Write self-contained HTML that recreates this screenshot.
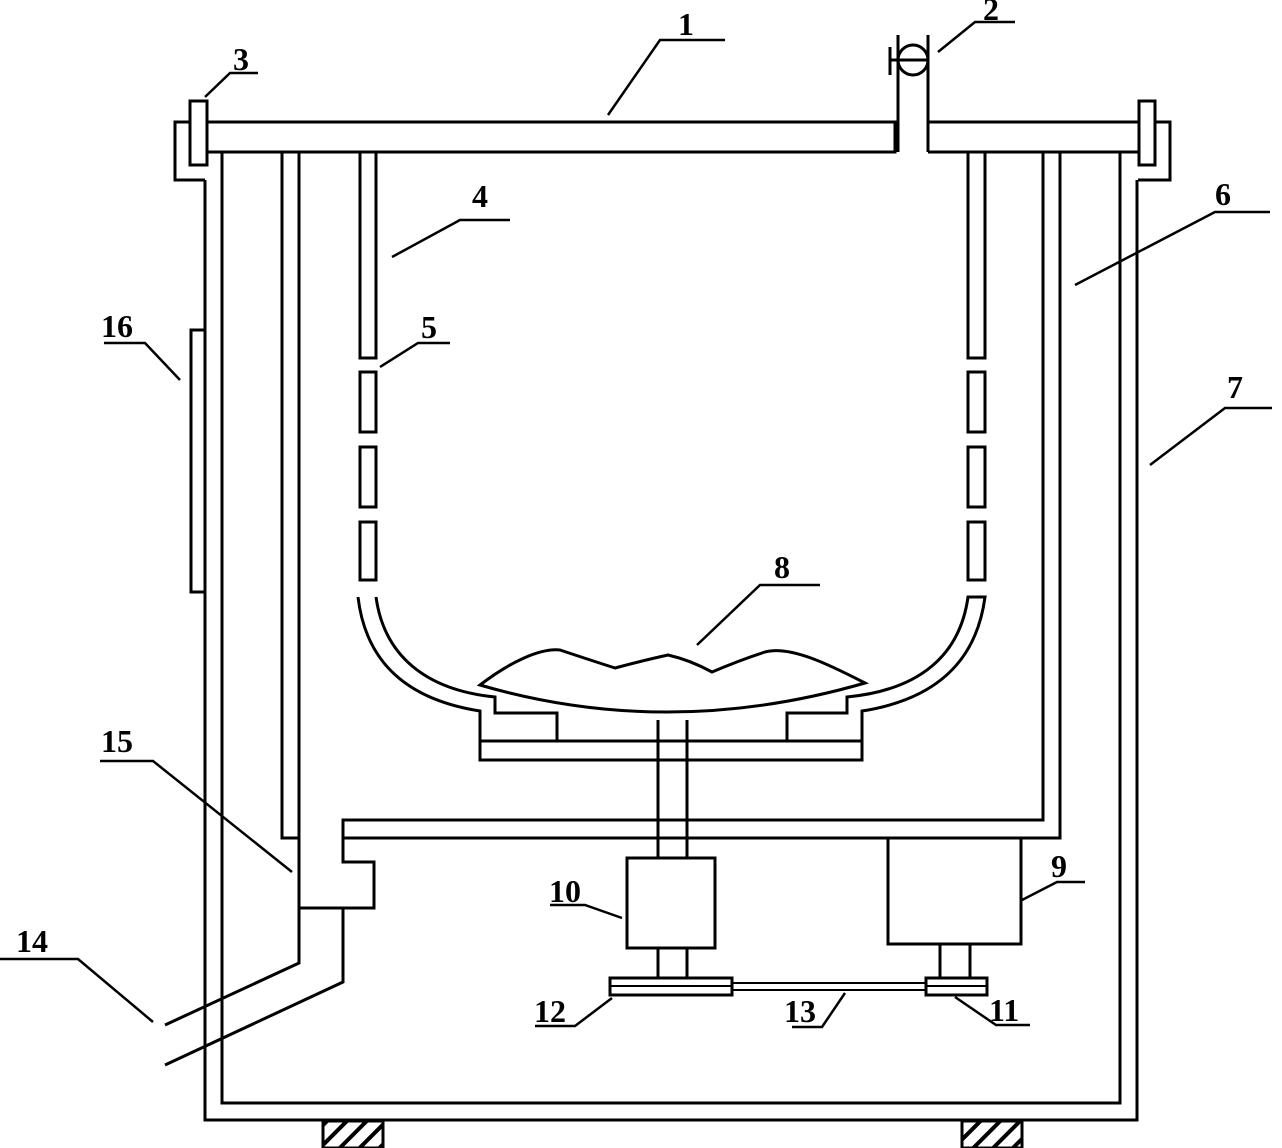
<!DOCTYPE html>
<html><head><meta charset="utf-8"><style>html,body{margin:0;padding:0;background:#fff}svg{display:block}text{font-family:"Liberation Serif",serif;font-weight:bold;font-size:32px;fill:#000}</style></head><body>
<svg width="1282" height="1148" viewBox="0 0 1282 1148" xmlns="http://www.w3.org/2000/svg">
<defs><pattern id="h" width="14" height="14" patternUnits="userSpaceOnUse" patternTransform="rotate(45)"><rect width="14" height="14" fill="#fff"/><rect x="0" y="0" width="4" height="14" fill="#000"/></pattern></defs>
<g fill="none" stroke="#000" stroke-width="3">
<path d="M207,122 H895 V152 H207 Z" fill="none"/>
<path d="M928,122 H1139 M928,152 H1139 M928,122 V152"/>
<path d="M898,35 V152 M928,35 V152"/>
<circle cx="913" cy="60" r="15"/>
<path d="M890,60 H928 M890,47 V75"/>
<rect x="190" y="101" width="17" height="64"/>
<rect x="1139" y="101" width="16" height="64"/>
<path d="M190,122 H175 V180 H205"/>
<path d="M1155,122 H1170 V180 H1138"/>
<path d="M205,180 V1120 H1137 V180"/>
<path d="M222,152 V1103 H1120 V152"/>
<path d="M205,330 H191 V592 H205"/>
<path d="M282,152 V838 H299"/>
<path d="M299,152 V963 L165,1025"/>
<path d="M1043,152 V820 H343 V862 H374 V908 H299"/>
<path d="M1060,152 V838 H343"/>
<path d="M343,908 V982 L165,1065"/>
<path d="M360,152 V358 H376 V152"/>
<rect x="360" y="372" width="16" height="60"/>
<rect x="360" y="447" width="16" height="60"/>
<rect x="360" y="522" width="16" height="58"/>
<path d="M968,152 V358 H985 V152"/>
<rect x="968" y="372" width="17" height="60"/>
<rect x="968" y="447" width="17" height="60"/>
<rect x="968" y="522" width="17" height="58"/>
<path d="M358,597 C366,665 410,700 480,711 V760 H862 V711 C932,700 976,665 985,597 L968,597 C960,655 920,690 847,697 V713 H787 V741"/>
<path d="M376,597 C384,655 425,690 495,697 V713 H557 V741"/>
<path d="M480,741 H862"/>
<path d="M480,685 Q668,740 865,683 C830,665 790,645 765,652 Q740,660 712,672 Q690,660 668,655 Q645,660 615,668 Q590,660 560,650 C540,648 510,662 480,685 Z"/>
<path d="M658,720 V858 M687,720 V858"/>
<rect x="627" y="858" width="88" height="90"/>
<rect x="888" y="838" width="133" height="106"/>
<path d="M658,948 V978 M687,948 V978 M940,944 V978 M970,944 V978"/>
<rect x="610" y="978" width="122" height="17"/>
<rect x="926" y="978" width="61" height="17"/>
<path d="M610,986 H732 M926,986 H987" stroke-width="2"/>
<path d="M732,983 H926 M732,990 H926" stroke-width="2"/>
</g>
<rect x="323" y="1121" width="60" height="27" fill="url(#h)" stroke="#000" stroke-width="3"/>
<rect x="962" y="1121" width="60" height="27" fill="url(#h)" stroke="#000" stroke-width="3"/>
<g fill="none" stroke="#000" stroke-width="2.5">
<path d="M725,40 H660 L608,115"/>
<path d="M1015,22 H975 L938,52"/>
<path d="M258,73 H230 L205,97"/>
<path d="M510,220 H460 L392,257"/>
<path d="M450,343 H418 L380,367"/>
<path d="M1270,212 H1215 L1075,285"/>
<path d="M1272,408 H1225 L1150,465"/>
<path d="M820,585 H760 L697,645"/>
<path d="M1085,882 H1057 L1022,900"/>
<path d="M550,905 H585 L622,918"/>
<path d="M1030,1025 H996 L955,997"/>
<path d="M535,1026 H575 L612,998"/>
<path d="M792,1027 H822 L845,993"/>
<path d="M0,959 H78 L153,1022"/>
<path d="M100,761 H153 L292,872"/>
<path d="M104,343 H145 L180,380"/>
</g>
<text x="678" y="35">1</text>
<text x="983" y="20">2</text>
<text x="233" y="70">3</text>
<text x="472" y="207">4</text>
<text x="421" y="338">5</text>
<text x="1215" y="205">6</text>
<text x="1227" y="398">7</text>
<text x="774" y="578">8</text>
<text x="1051" y="877">9</text>
<text x="549" y="902">10</text>
<text x="989" y="1021">11</text>
<text x="534" y="1022">12</text>
<text x="784" y="1022">13</text>
<text x="16" y="952">14</text>
<text x="101" y="752">15</text>
<text x="101" y="337">16</text>
</svg>
</body></html>
